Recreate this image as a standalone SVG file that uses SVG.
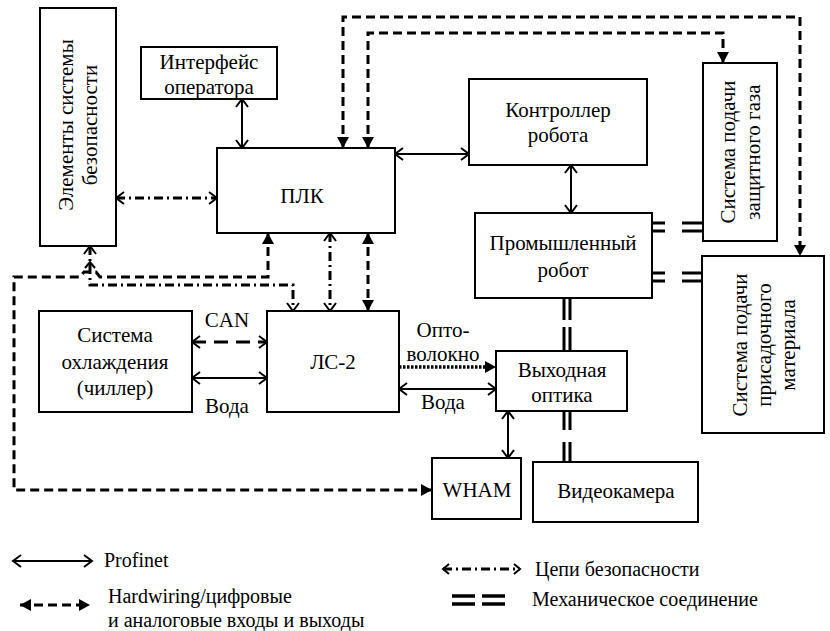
<svg xmlns="http://www.w3.org/2000/svg" width="830" height="631" viewBox="0 0 830 631" font-family="Liberation Serif, Tinos, Times New Roman, serif">
<defs>
<marker id="ch" viewBox="-12 -8 14 16" markerWidth="14" markerHeight="16" refX="0" refY="0" orient="auto-start-reverse" markerUnits="userSpaceOnUse"><path d="M-8,-6 L0,0 L-8,6" fill="none" stroke="#000" stroke-width="2"/></marker>
<marker id="chs" viewBox="-10 -7 12 14" markerWidth="12" markerHeight="14" refX="0" refY="0" orient="auto-start-reverse" markerUnits="userSpaceOnUse"><path d="M-6,-5 L0,0 L-6,5" fill="none" stroke="#000" stroke-width="2"/></marker>
<marker id="tri" viewBox="-12 -7 14 14" markerWidth="14" markerHeight="14" refX="0" refY="0" orient="auto-start-reverse" markerUnits="userSpaceOnUse"><path d="M-11,-6 L0,0 L-11,6 z" fill="#000"/></marker>
</defs>

<g id="connectors" fill="none" stroke="#000">
<g stroke-width="3" stroke-dasharray="9 5" marker-start="url(#tri)" marker-end="url(#tri)">
<path d="M343,148 V17 H800 V256"/>
<path d="M368,148 V33 H723 V63"/>
<path d="M368,233 V311"/>
<path d="M268,233 V277 H100 L96,272 H84 L80,277 H14 V490 H432"/>
</g>
<g stroke-width="3" stroke-dasharray="9 4 2 4" marker-start="url(#ch)" marker-end="url(#ch)">
<path d="M116,198 H217"/>
<path d="M90,246 V285 H293 V311"/>
<path d="M330,233 V311"/>
</g>
<path d="M90,272 V262" stroke-width="2" marker-end="url(#chs)"/>
<g stroke-width="2" marker-start="url(#ch)" marker-end="url(#ch)">
<path d="M242,99 V148"/>
<path d="M395,154 H469"/>
<path d="M571,165 V213"/>
<path d="M192,378 H267"/>
<path d="M399,389 H496"/>
<path d="M508,411 V458"/>
</g>
<path d="M192,342 H267" stroke-width="3" stroke-dasharray="14 8" marker-start="url(#ch)" marker-end="url(#ch)"/>
<path d="M399,367 H486" stroke-width="3.5" stroke-dasharray="2.5 1.5"/>
<path d="M485,361 L496,367 L485,373 z" fill="#000" stroke="none"/>
<g stroke-width="3">
<path d="M564,298 V320 M570,298 V320 M564,327 V351 M570,327 V351"/>
<path d="M564,411 V430 M570,411 V430 M564,442 V462 M570,442 V462"/>
<path d="M652,223 H665 M652,231 H665 M682,223 H703 M682,231 H703"/>
<path d="M652,273 H665 M652,281 H665 M682,273 H702 M682,281 H702"/>
</g>
<g fill="#000" stroke="none" font-size="21" text-anchor="middle">
<text x="227" y="327" font-family="Liberation Serif">CAN</text>
<text x="227" y="413" font-family="Liberation Serif">Вода</text>
<text x="443" y="337" font-family="Liberation Serif">Опто-</text>
<text x="443" y="361" font-family="Liberation Serif">волокно</text>
<text x="443" y="409" font-family="Liberation Serif">Вода</text>
</g>
</g>

<g id="safety">
<rect x="40" y="8" width="76" height="238" fill="#fff" stroke="#000" stroke-width="2"/>
<text transform="translate(73,125) rotate(-90)" font-family="Liberation Serif" font-size="21" text-anchor="middle">Элементы системы</text>
<text transform="translate(97,125) rotate(-90)" font-family="Liberation Serif" font-size="21" text-anchor="middle">безопасности</text>
</g>
<g id="operator">
<rect x="141" y="47" width="136" height="52" fill="#fff" stroke="#000" stroke-width="2"/>
<text x="209" y="69" font-family="Liberation Serif" font-size="21" text-anchor="middle">Интерфейс</text>
<text x="209" y="94" font-family="Liberation Serif" font-size="21" text-anchor="middle">оператора</text>
</g>
<g id="plc">
<rect x="217" y="148" width="178" height="85" fill="#fff" stroke="#000" stroke-width="2"/>
<text x="302" y="203" font-family="Liberation Serif" font-size="21" text-anchor="middle">ПЛК</text>
</g>
<g id="robot-controller">
<rect x="469" y="79" width="178" height="86" fill="#fff" stroke="#000" stroke-width="2"/>
<text x="558" y="117" font-family="Liberation Serif" font-size="21" text-anchor="middle">Контроллер</text>
<text x="558" y="142" font-family="Liberation Serif" font-size="21" text-anchor="middle">робота</text>
</g>
<g id="robot">
<rect x="475" y="213" width="177" height="85" fill="#fff" stroke="#000" stroke-width="2"/>
<text x="563" y="250" font-family="Liberation Serif" font-size="21" text-anchor="middle">Промышленный</text>
<text x="563" y="277" font-family="Liberation Serif" font-size="21" text-anchor="middle">робот</text>
</g>
<g id="gas">
<rect x="703" y="63" width="74" height="178" fill="#fff" stroke="#000" stroke-width="2"/>
<text transform="translate(735,152) rotate(-90)" font-family="Liberation Serif" font-size="21" text-anchor="middle">Система подачи</text>
<text transform="translate(760,152) rotate(-90)" font-family="Liberation Serif" font-size="21" text-anchor="middle">защитного газа</text>
</g>
<g id="filler">
<rect x="702" y="256" width="122" height="177" fill="#fff" stroke="#000" stroke-width="2"/>
<text transform="translate(747,345) rotate(-90)" font-family="Liberation Serif" font-size="21" text-anchor="middle">Система подачи</text>
<text transform="translate(771,345) rotate(-90)" font-family="Liberation Serif" font-size="21" text-anchor="middle">присадочного</text>
<text transform="translate(795,345) rotate(-90)" font-family="Liberation Serif" font-size="21" text-anchor="middle">материала</text>
</g>
<g id="chiller">
<rect x="39" y="311" width="153" height="101" fill="#fff" stroke="#000" stroke-width="2"/>
<text x="115" y="342" font-family="Liberation Serif" font-size="21" text-anchor="middle">Система</text>
<text x="115" y="369" font-family="Liberation Serif" font-size="21" text-anchor="middle">охлаждения</text>
<text x="115" y="395" font-family="Liberation Serif" font-size="21" text-anchor="middle">(чиллер)</text>
</g>
<g id="ls2">
<rect x="267" y="311" width="132" height="101" fill="#fff" stroke="#000" stroke-width="2"/>
<text x="333" y="369" font-family="Liberation Serif" font-size="21" text-anchor="middle">ЛС-2</text>
</g>
<g id="optics">
<rect x="496" y="351" width="131" height="60" fill="#fff" stroke="#000" stroke-width="2"/>
<text x="562" y="377" font-family="Liberation Serif" font-size="21" text-anchor="middle">Выходная</text>
<text x="562" y="402" font-family="Liberation Serif" font-size="21" text-anchor="middle">оптика</text>
</g>
<g id="wham">
<rect x="432" y="458" width="89" height="61" fill="#fff" stroke="#000" stroke-width="2"/>
<text x="477" y="497" font-family="Liberation Serif" font-size="21" text-anchor="middle">WHAM</text>
</g>
<g id="camera">
<rect x="533" y="462" width="165" height="60" fill="#fff" stroke="#000" stroke-width="2"/>
<text x="616" y="498" font-family="Liberation Serif" font-size="21" text-anchor="middle">Видеокамера</text>
</g>

<g id="legend">
<path d="M13,561 H92" fill="none" stroke="#000" stroke-width="2" marker-start="url(#ch)" marker-end="url(#ch)"/>
<text x="104" y="567" font-family="Liberation Serif" font-size="20">Profinet</text>
<path d="M20,605 H90" fill="none" stroke="#000" stroke-width="3" stroke-dasharray="9 5" marker-start="url(#tri)" marker-end="url(#tri)"/>
<text x="108" y="603" font-family="Liberation Serif" font-size="20">Hardwiring/цифровые</text>
<text x="108" y="627" font-family="Liberation Serif" font-size="20">и аналоговые входы и выходы</text>
<path d="M443,569 H520" fill="none" stroke="#000" stroke-width="3" stroke-dasharray="9 4 2 4" marker-start="url(#chs)" marker-end="url(#chs)"/>
<text x="535" y="576" font-family="Liberation Serif" font-size="20">Цепи безопасности</text>
<path d="M452,596 H475 M452,604 H475 M482,596 H505 M482,604 H505" fill="none" stroke="#000" stroke-width="3.5"/>
<text x="532" y="606" font-family="Liberation Serif" font-size="20">Механическое соединение</text>
</g>
</svg>
